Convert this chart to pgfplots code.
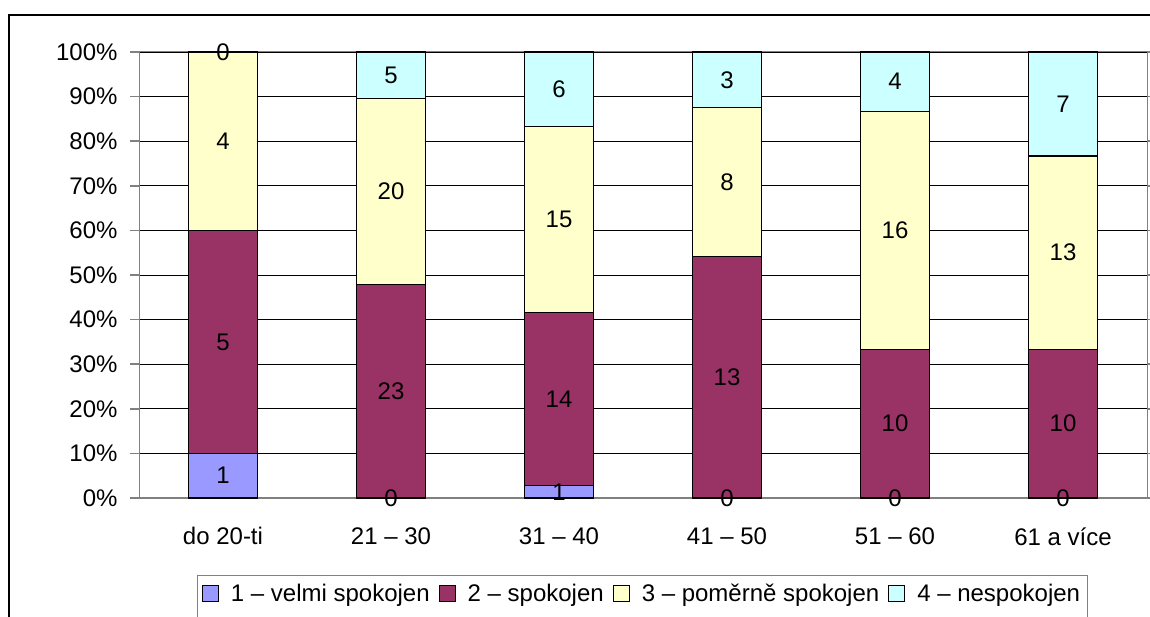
\documentclass[border=0pt]{standalone}
\usepackage{fontspec}
\setmainfont{Liberation Sans}
\usepackage{pgfplots}
\usepackage{pgfplotstable}
\pgfplotsset{compat=1.18}

\definecolor{s1}{HTML}{9999FF}
\definecolor{s2}{HTML}{993366}
\definecolor{s3}{HTML}{FFFFCC}
\definecolor{s4}{HTML}{CCFFFF}
\definecolor{axgray}{HTML}{808080}

\newcommand\lbl{\fontsize{24}{28}\selectfont}

% counts per age group: a = 1 velmi spokojen, b = 2 spokojen,
% c = 3 pomerne spokojen, d = 4 nespokojen
\pgfplotstableread{
x a b c d
0 1 5 4 0
1 0 23 20 5
2 1 14 15 6
3 0 13 8 3
4 0 10 16 4
5 0 10 13 7
}\counts
\newcommand\tot{(\thisrow{a}+\thisrow{b}+\thisrow{c}+\thisrow{d})}

\pgfplotsset{
  segbar/.style={ybar, bar width=69pt, bar shift=0pt, draw=black, line width=1.3pt, fill=#1, forget plot},
  seglbl/.style={draw=none, mark=none, nodes near coords, point meta=explicit symbolic,
    every node near coord/.style={anchor=center, font=\lbl, text=black, inner sep=0pt}, forget plot},
}

\begin{document}
\begin{tikzpicture}
% page = 1150 x 616 px, 1 px = 1 pt
\path (0pt,0pt) rectangle (1150pt,616pt);
\begin{pgfinterruptboundingbox}
\draw[line width=2pt] (9pt,-5pt) -- (9pt,601pt) -- (1155pt,601pt);
\draw[axgray, line width=1pt] (197pt,-5pt) -- (197pt,41pt) -- (1087pt,41pt) -- (1087pt,-5pt);
\begin{axis}[
  at={(139pt,118pt)}, anchor=south west,
  scale only axis, width=1008pt, height=446pt,
  xmin=-0.5, xmax=5.5, ymin=0, ymax=100,
  xtick={0,...,5},
  xticklabels={do 20-ti, 21 -- 30, 31 -- 40, 41 -- 50, 51 -- 60, 61 a více},
  minor xtick={-0.5,0.5,...,5.5},
  ytick={0,10,...,100},
  yticklabels={0\%,10\%,20\%,30\%,40\%,50\%,60\%,70\%,80\%,90\%,100\%},
  tick align=outside,
  major tick length=9pt, minor tick length=7pt,
  xtick style={draw=none},
  minor x tick style={axgray, line width=1.5pt},
  y tick style={axgray, line width=1.5pt},
  tick label style={font=\lbl},
  yticklabel style={xshift=-9pt},
  xticklabel style={yshift=-17pt},
  ymajorgrids,
  major grid style={black, line width=0.9pt},
  axis line style={axgray, line width=1pt},
  legend columns=4,
  legend style={at={(0.499,-0.2152)}, anchor=center, draw=none, fill=none,
    font=\lbl, inner xsep=0pt, inner ysep=0pt,
    /tikz/every odd column/.append style={column sep=10pt},
    /tikz/every even column/.append style={column sep=7pt}},
  legend image code/.code={\draw[#1, draw=black, line width=1pt] (0pt,-8pt) rectangle (16pt,8pt);},
]
\draw[axgray, line width=2pt] (rel axis cs:0,1) -- (rel axis cs:0,0) -- (rel axis cs:1,0);
% cumulative bars, drawn from the top series down
\addplot[segbar=s4] table[x=x, y expr={100*\tot/\tot}] \counts;
\addplot[segbar=s3] table[x=x, y expr={100*(\thisrow{a}+\thisrow{b}+\thisrow{c})/\tot}] \counts;
\addplot[segbar=s2] table[x=x, y expr={100*(\thisrow{a}+\thisrow{b})/\tot}] \counts;
\addplot[segbar=s1] table[x=x, y expr={100*\thisrow{a}/\tot}] \counts;
% value labels in the middle of each segment
\addplot[seglbl] table[x=x, y expr={100*(0.5*\thisrow{a})/\tot}, meta=a] \counts;
\addplot[seglbl] table[x=x, y expr={100*(\thisrow{a}+0.5*\thisrow{b})/\tot}, meta=b] \counts;
\addplot[seglbl] table[x=x, y expr={100*(\thisrow{a}+\thisrow{b}+0.5*\thisrow{c})/\tot}, meta=c] \counts;
\addplot[seglbl] table[x=x, y expr={100*(\thisrow{a}+\thisrow{b}+\thisrow{c}+0.5*\thisrow{d})/\tot}, meta=d] \counts;
\addlegendimage{fill=s1}\addlegendentry{1 – velmi spokojen}
\addlegendimage{fill=s2}\addlegendentry{2 – spokojen}
\addlegendimage{fill=s3}\addlegendentry{3 – poměrně spokojen}
\addlegendimage{fill=s4}\addlegendentry{4 – nespokojen}
\end{axis}
\end{pgfinterruptboundingbox}
\end{tikzpicture}
\end{document}
